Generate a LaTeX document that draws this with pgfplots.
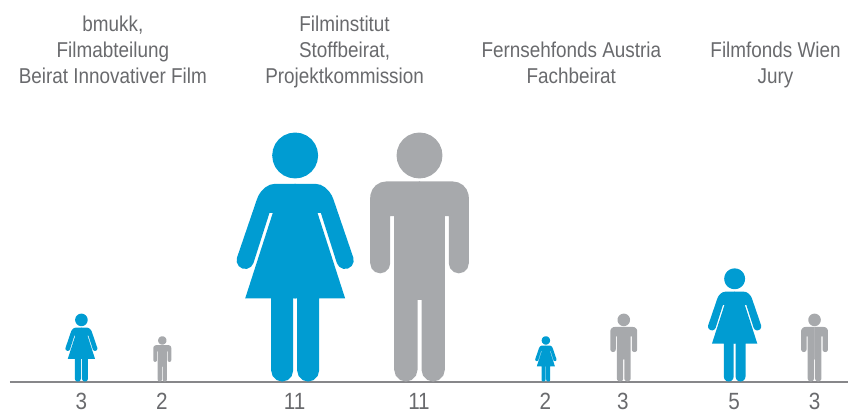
\documentclass[border=0pt]{standalone}
\usepackage{pgfplots}
\usepackage{pgfplotstable}
\usepackage{fontspec}
\pgfplotsset{compat=1.18}
\setmainfont[FakeStretch=0.88]{Liberation Sans}
\definecolor{cF}{RGB}{0,156,210}
\definecolor{cM}{RGB}{167,169,172}
\definecolor{cT}{RGB}{105,106,109}
\definecolor{cL}{RGB}{135,135,138}

% outlines of the right half, units are 1/3 px of the figure with value 11
\pgfplotstableread{
x y
-2 594
60 594
76 591
90 583
102 571
110 559
115 547
174.6 372.4
175.5 359
169.6 346.9
158.5 339.4
145 338.5
132.9 344.4
125.4 355.5
77 507
67 507
150 250
72 250
72 33
67.6 16.5
55.5 4.4
39 0
22.5 4.4
10.4 16.5
6 33
6 250
-2 250
}\womanhalf
\pgfplotstableread{
x y
-2 601
100 601
116.4 598.1
130.9 589.8
141.6 577
147.3 561.3
148 553
148 355
144 340
133 329
118 325
103 329
92 340
88 355
88 497
76 497
76 35
71.3 17.5
58.5 4.7
41 0
23.5 4.7
10.7 17.5
6 35
6 245
-2 245
}\manhalf
\pgfplotstableread{
x y
69 679
66.6 696.9
59.8 713.5
48.8 727.8
34.5 738.8
17.9 745.6
0 748
-17.9 745.6
-34.5 738.8
-48.8 727.8
-59.8 713.5
-66.6 696.9
-69 679
-66.6 661.1
-59.8 644.5
-48.8 630.2
-34.5 619.2
-17.9 612.4
0 610
17.9 612.4
34.5 619.2
48.8 630.2
59.8 644.5
66.6 661.1
}\headshape

% #1 half outline, #2 colour, #3 centre x, #4 value
\newcommand{\person}[4]{%
  \addplot[draw=none,fill=#2] table[x expr={#3+\thisrow{x}*#4/33},y expr={\thisrow{y}*#4/33}] {\headshape};
  \addplot[draw=none,fill=#2] table[x expr={#3+\thisrow{x}*#4/33},y expr={\thisrow{y}*#4/33}] {#1};
  \addplot[draw=none,fill=#2] table[x expr={#3-\thisrow{x}*#4/33},y expr={\thisrow{y}*#4/33}] {#1};
}
\newcommand{\lab}[3]{\node[anchor=base,text=cT,font=\fontsize{21.5}{21.5}\selectfont,inner sep=0pt] at (axis cs:#1,{382-#2}) {#3};}

\begin{document}
\begin{tikzpicture}
\begin{axis}[
  scale only axis,width=839pt,height=382pt,
  xmin=10,xmax=849,ymin=0,ymax=382,
  clip=false,
  axis x line=bottom,axis y line=none,
  axis line style={cL,line width=2pt,-},
  xtick={81.5,162,295,419.5,546,623.5,735,815.5},
  xticklabels={3,2,11,11,2,3,5,3},
  major tick length=0pt,
  xticklabel style={text=cT,font=\fontsize{23.5}{23.5}\selectfont,anchor=base,yshift=-28pt,inner sep=0pt},
]
\person{\womanhalf}{cF}{81.5}{3}
\person{\manhalf}{cM}{162.5}{2}
\person{\womanhalf}{cF}{295.5}{11}
\person{\manhalf}{cM}{420}{11}
\person{\womanhalf}{cF}{546.5}{2}
\person{\manhalf}{cM}{624.5}{3}
\person{\womanhalf}{cF}{735.5}{5}
\person{\manhalf}{cM}{815.5}{3}
\lab{113}{32}{bmukk,}
\lab{113}{58}{Filmabteilung}
\lab{113}{84}{Beirat Innovativer Film}
\lab{345}{32}{Filminstitut}
\lab{345}{58}{Stoffbeirat,}
\lab{345}{84}{Projektkommission}
\lab{572}{58}{Fernsehfonds Austria}
\lab{572}{84}{Fachbeirat}
\lab{776.5}{58}{Filmfonds Wien}
\lab{776.5}{84}{Jury}
\path[use as bounding box] (axis cs:0,-31) rectangle (axis cs:849,382);
\end{axis}
\end{tikzpicture}
\end{document}
